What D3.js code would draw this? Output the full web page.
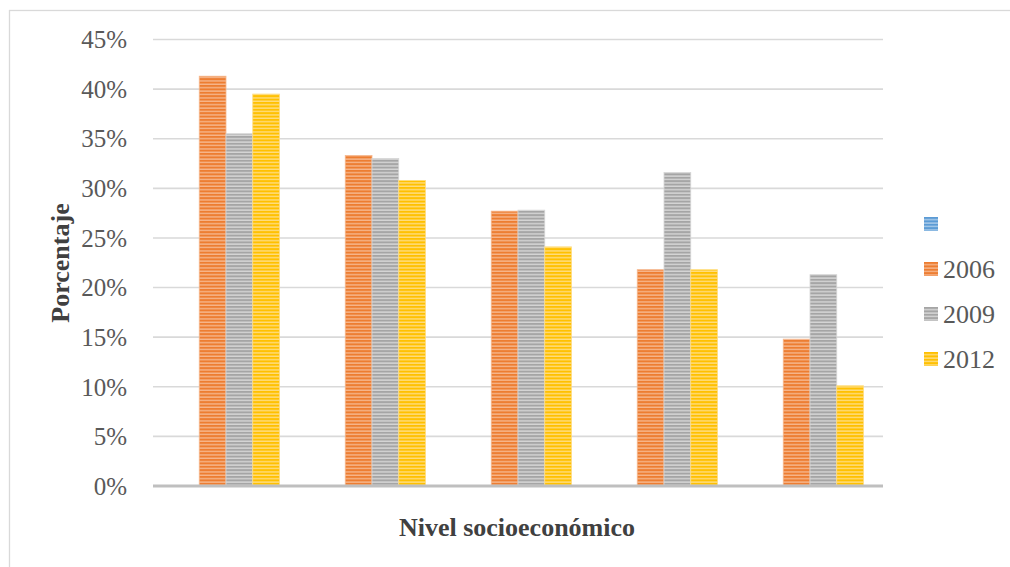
<!DOCTYPE html>
<html><head><meta charset="utf-8">
<script src="https://cdn.jsdelivr.net/npm/d3@7"></script>
<style>html,body{margin:0;padding:0;background:#fff;}svg{display:block;}</style>
</head><body>
<svg id="chart" width="1010" height="567"></svg>
<script>
const categories = ["A", "B", "C", "D", "E"];
const seriesNames = ["", "2006", "2009", "2012"];
const values2006 = [41.3, 33.3, 27.7, 21.8, 14.8];
const values2009 = [35.5, 33.0, 27.8, 31.6, 21.3];
const values2012 = [39.5, 30.8, 24.1, 21.8, 10.1];
const valuesBlank = [null, null, null, null, null];
const yTicks = [0, 5, 10, 15, 20, 25, 30, 35, 40, 45];

const colors = ["#5B9BD5", "#ED7D31", "#A5A5A5", "#FFC000"];
const lightColors = ["#A9CBEA", "#F6B68C", "#D6D6D6", "#FFDD80"];
const series = [valuesBlank, values2006, values2009, values2012];

const svg = d3.select("#chart");
const defs = svg.append("defs");
colors.forEach((c, i) => {
  const p = defs.append("pattern").attr("id", "pat" + i)
    .attr("patternUnits", "userSpaceOnUse").attr("width", 8).attr("height", 3.4);
  p.append("rect").attr("width", 8).attr("height", 3.4).attr("fill", c);
  p.append("rect").attr("y", 2).attr("width", 8).attr("height", 1.4).attr("fill", lightColors[i]);
});

// outer border
svg.append("rect").attr("x", 9.5).attr("y", 10.5).attr("width", 1020).attr("height", 600)
  .attr("fill", "none").attr("stroke", "#d9d9d9").attr("stroke-width", 1.3);

const pLeft = 153, pRight = 883, pTop = 39.5, pBottom = 486;
const x = d3.scaleBand().domain(categories).range([pLeft, pRight]).paddingInner(0.267).paddingOuter(0.1335);
const xs = d3.scaleBand().domain(d3.range(series.length)).range([0, x.bandwidth()]);
const y = d3.scaleLinear().domain([0, 45]).range([pBottom, pTop]);

// gridlines
svg.append("g").selectAll("line").data(yTicks.filter(t => t > 0)).join("line")
  .attr("x1", pLeft).attr("x2", pRight)
  .attr("y1", d => y(d)).attr("y2", d => y(d))
  .attr("stroke", "#d9d9d9").attr("stroke-width", 1.6);

// y tick labels
svg.append("g").selectAll("text").data(yTicks).join("text")
  .attr("x", 127).attr("y", d => y(d)).attr("dy", "0.35em")
  .attr("text-anchor", "end")
  .attr("font-family", "Liberation Serif, Times New Roman, serif")
  .attr("font-size", 25).attr("fill", "#595959")
  .text(d => d + "%");

// bars
series.forEach((vals, si) => {
  svg.append("g").selectAll("rect").data(vals.map((v, i) => ({v, c: categories[i]})).filter(d => d.v != null))
    .join("rect")
    .attr("x", d => x(d.c) + xs(si))
    .attr("width", xs.bandwidth())
    .attr("y", d => y(d.v))
    .attr("height", d => y(0) - y(d.v))
    .attr("fill", "url(#pat" + si + ")")
    .attr("stroke", lightColors[si]).attr("stroke-width", 0.8);
});

// x axis line
svg.append("line").attr("x1", pLeft).attr("x2", pRight).attr("y1", y(0)).attr("y2", y(0))
  .attr("stroke", "#bfbfbf").attr("stroke-width", 3);

// axis titles
svg.append("text").attr("x", 517).attr("y", 536).attr("text-anchor", "middle")
  .attr("font-family", "Liberation Serif, Times New Roman, serif").attr("font-weight", "bold")
  .attr("font-size", 26).attr("fill", "#404040").text("Nivel socioeconómico");
svg.append("text").attr("transform", "translate(69,263) rotate(-90)").attr("text-anchor", "middle")
  .attr("font-family", "Liberation Serif, Times New Roman, serif").attr("font-weight", "bold")
  .attr("font-size", 26).attr("fill", "#404040").text("Porcentaje");

// legend
const lg = svg.append("g").attr("transform", "translate(924,217)");
seriesNames.forEach((n, i) => {
  const g = lg.append("g").attr("transform", `translate(0,${i * 45})`);
  g.append("rect").attr("width", 14).attr("height", 14).attr("fill", "url(#pat" + i + ")");
  g.append("text").attr("x", 19).attr("y", 7).attr("dy", "0.36em")
    .attr("font-family", "Liberation Serif, Times New Roman, serif")
    .attr("font-size", 26).attr("fill", "#595959").text(n);
});
</script>
</body></html>
